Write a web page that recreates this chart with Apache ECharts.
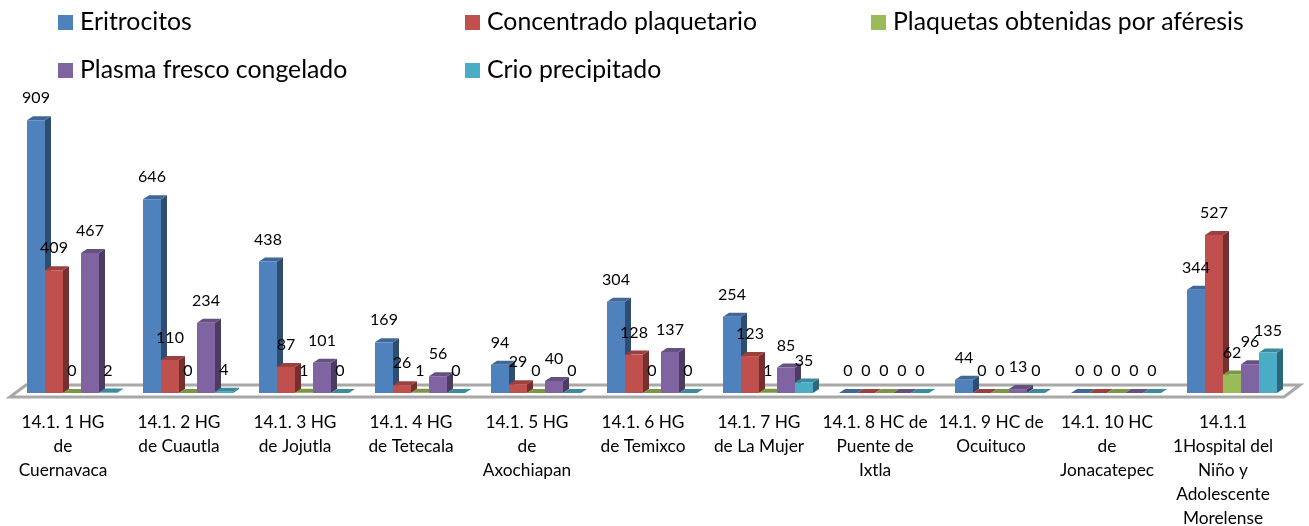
<!DOCTYPE html>
<html>
<head>
<meta charset="utf-8">
<style>
  html, body { margin: 0; padding: 0; background: #fff; }
  #chart { width: 1309px; height: 526px; }
</style>
<script src="https://cdn.jsdelivr.net/npm/echarts@6/dist/echarts.min.js"></script>
</head>
<body>
<div id="chart"></div>
<script>
// datos
var categories = [
  "14.1. 1 HG\nde\nCuernavaca",
  "14.1. 2 HG\nde Cuautla",
  "14.1. 3 HG\nde Jojutla",
  "14.1. 4 HG\nde Tetecala",
  "14.1. 5 HG\nde\nAxochiapan",
  "14.1. 6 HG\nde Temixco",
  "14.1. 7 HG\nde La Mujer",
  "14.1. 8 HC de\nPuente de\nIxtla",
  "14.1. 9 HC de\nOcuituco",
  "14.1. 10 HC\nde\nJonacatepec",
  "14.1.1\n1Hospital del\nNiño y\nAdolescente\nMorelense"
];
var eritrocitos = [909, 646, 438, 169, 94, 304, 254, 0, 44, 0, 344];
var concentrado = [409, 110, 87, 26, 29, 128, 123, 0, 0, 0, 527];
var plaquetas = [0, 0, 1, 1, 0, 0, 1, 0, 0, 0, 62];
var plasma = [467, 234, 101, 56, 40, 137, 85, 0, 13, 0, 96];
var crio = [2, 4, 0, 0, 0, 0, 35, 0, 0, 0, 135];

var font = "Lato";
var barW = 18, depthX = 6, depthY = 4;

// cara frontal, lateral y superior de cada barra
function bar3d(idx, color, top, side) {
  return function (params, api) {
    var cat = api.value(0);
    var val = api.value(1);
    var base = api.coord([cat, 0]);
    var tip = api.coord([cat, val]);
    var x = base[0] - 2.5 * barW + idx * barW;
    var y0 = base[1], y1 = tip[1];
    var x2 = x + barW;
    return {
      type: "group",
      children: [
        { type: "polygon", shape: { points: [[x2, y0], [x2 + depthX, y0 - depthY], [x2 + depthX, y1 - depthY], [x2, y1]] }, style: { fill: side } },
        { type: "polygon", shape: { points: [[x, y1], [x + depthX, y1 - depthY], [x2 + depthX, y1 - depthY], [x2, y1]] }, style: { fill: top } },
        { type: "rect", shape: { x: x, y: y1, width: barW, height: y0 - y1 }, style: { fill: color } },
        { type: "text", z2: 100, style: { x: x + barW / 2, y: y1 - 22, text: String(val), fill: "#000", font: "16px " + font, align: "center", verticalAlign: "middle" } }
      ]
    };
  };
}

function barSeries(name, values, idx, color, top, side) {
  return {
    name: name,
    type: "custom",
    clip: false,
    itemStyle: { color: color },
    encode: { x: 0, y: 1 },
    data: values.map(function (v, i) { return [i, v]; }),
    renderItem: bar3d(idx, color, top, side)
  };
}

// piso gris debajo de las barras
var floorSeries = {
  name: "piso",
  type: "custom",
  clip: false,
  silent: true,
  data: [[0, 0]],
  encode: { x: 0, y: 1 },
  renderItem: function (params, api) {
    var c = params.coordSys;
    var y = api.coord([0, 0])[1];
    return {
      type: "polygon",
      shape: { points: [[c.x - 4, y + 4], [c.x + 12, y - 8], [c.x + c.width + 10, y - 8], [c.x + c.width - 6, y + 4]] },
      style: { fill: "#fff", stroke: "#a8a8a8", lineWidth: 3 }
    };
  }
};

function legendItem(name, left, top) {
  return {
    data: [name],
    left: left,
    top: top,
    padding: 0,
    icon: "rect",
    itemWidth: 15,
    itemHeight: 15,
    selectedMode: false,
    textStyle: { fontFamily: font, fontSize: 24.8, color: "#000", padding: [0, 0, 0, 2] }
  };
}

var chart = echarts.init(document.getElementById("chart"));
chart.setOption({
  animation: false,
  backgroundColor: "#fff",
  legend: [
    legendItem("Eritrocitos", 58, 10),
    legendItem("Concentrado plaquetario", 465, 10),
    legendItem("Plaquetas obtenidas por aféresis", 871, 10),
    legendItem("Plasma fresco congelado", 58, 58),
    legendItem("Crio precipitado", 465, 58)
  ],
  grid: { left: 14, width: 1276, top: 93, height: 300, outerBoundsMode: "none" },
  xAxis: {
    type: "category",
    data: categories,
    axisLine: { show: false },
    axisTick: { show: false },
    axisLabel: { interval: 0, margin: 17, padding: [0, 18, 0, 0], fontFamily: font, fontSize: 17.3, lineHeight: 24, color: "#000" }
  },
  yAxis: { type: "value", min: 0, max: 1000, show: false },
  series: [
    floorSeries,
    barSeries("Eritrocitos", eritrocitos, 0, "#4f81bd", "#3f6797", "#2f4d71"),
    barSeries("Concentrado plaquetario", concentrado, 1, "#c0504d", "#9a403e", "#73302e"),
    barSeries("Plaquetas obtenidas por aféresis", plaquetas, 2, "#9bbb59", "#7c9647", "#5d7035"),
    barSeries("Plasma fresco congelado", plasma, 3, "#8064a2", "#665082", "#4d3c61"),
    barSeries("Crio precipitado", crio, 4, "#4bacc6", "#3c8a9e", "#2d6777")
  ]
});
</script>
</body>
</html>
